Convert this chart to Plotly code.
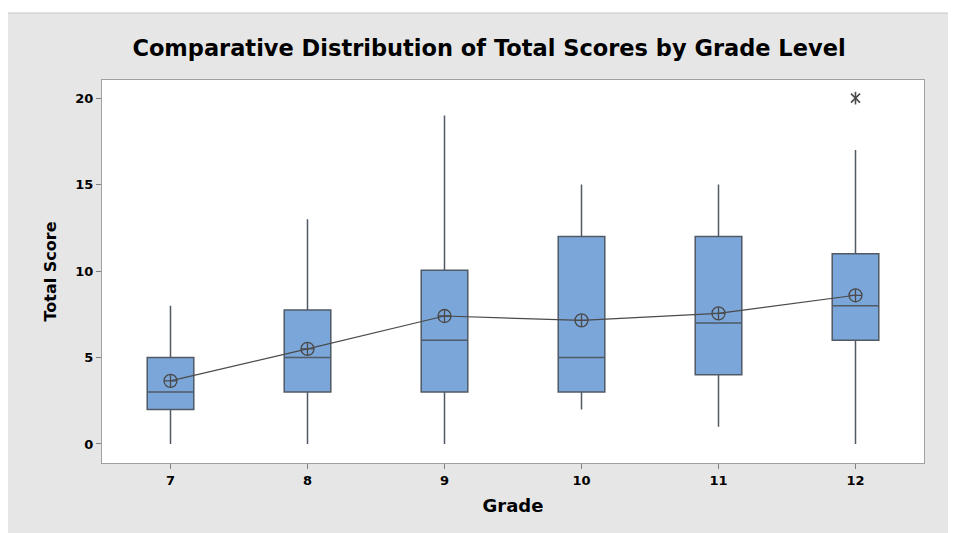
import plotly.graph_objects as go

grades = [7, 8, 9, 10, 11, 12]
mins = [0, 0, 0, 2, 1, 0]
q1s = [2, 3, 3, 3, 4, 6]
medians = [3, 5, 6, 5, 7, 8]
q3s = [5, 7.75, 10.05, 12, 12, 11]
maxs = [8, 13, 19, 15, 15, 17]
means = [3.65, 5.5, 7.4, 7.15, 7.55, 8.6]
outlier_grades = [12]
outlier_values = [20]
y_ticks = [0, 5, 10, 15, 20]

FILL = "#7BA6D9"
EDGE = "#505A64"
DARK = "#4A4A4A"
FONT = "DejaVu Sans"

fig = go.Figure()
fig.add_trace(go.Box(
    x=grades, q1=q1s, median=medians, q3=q3s,
    lowerfence=mins, upperfence=maxs,
    width=0.34, whiskerwidth=0,
    fillcolor=FILL, line=dict(color=EDGE, width=1.5),
    boxpoints=False, showlegend=False, hoverinfo="skip",
))
fig.add_trace(go.Scatter(
    x=grades, y=means, mode="lines+markers",
    line=dict(color=DARK, width=1.2),
    marker=dict(symbol="circle-cross-open", size=13, color=DARK, line=dict(width=1.3)),
    showlegend=False, hoverinfo="skip",
))
for sym in ["line-ns-open", "x-thin-open"]:
    fig.add_trace(go.Scatter(
        x=outlier_grades, y=outlier_values, mode="markers",
        marker=dict(symbol=sym, size=9, color=DARK, line=dict(width=1.6, color=DARK)),
        showlegend=False, hoverinfo="skip",
    ))

# page body adds an 8px offset; figure is sized/margined to compensate
OFF = 8
W, H = 956 - OFF, 533 - OFF
L, R, T, B = 102 - OFF, 32, 80 - OFF, 70
pw, ph = W - L - R, H - T - B

def px_x(px):
    return (px - OFF - L) / pw

def px_y(py):
    return (H - B - (py - OFF)) / ph

shapes = [
    dict(type="rect", xref="paper", yref="paper",
         x0=px_x(-5), x1=px_x(960), y0=px_y(13), y1=px_y(0),
         fillcolor="white", line=dict(width=0), layer="above"),
    dict(type="line", xref="paper", yref="paper",
         x0=px_x(8), x1=px_x(956), y0=px_y(13), y1=px_y(13),
         line=dict(color="#C8C8C8", width=1), layer="above"),
]

fig.update_layout(
    width=W, height=H,
    margin=dict(l=L, r=R, t=T, b=B),
    paper_bgcolor="#E6E6E6", plot_bgcolor="white",
    font=dict(family=FONT, color="black"),
    title=dict(text="<b>Comparative Distribution of Total Scores by Grade Level</b>",
               xref="container", x=(489 - OFF) / W, xanchor="center",
               y=1 - (48 - OFF) / H, yanchor="middle",
               font=dict(size=22.5, family=FONT, color="black")),
    shapes=shapes,
    xaxis=dict(
        range=[6.5, 12.5], tickvals=grades, ticktext=[f"<b>{g}</b>" for g in grades],
        showgrid=False, zeroline=False, showline=True, linecolor="#A0A0A0", linewidth=1,
        mirror=True, ticks="outside", ticklen=5, tickcolor="#808080",
        tickfont=dict(size=13, family=FONT),
        title=dict(text="<b>Grade</b>", font=dict(size=18, family=FONT), standoff=12),
    ),
    yaxis=dict(
        range=[-1.1, 21.05], tickvals=y_ticks, ticktext=[f"<b>{v}</b>" for v in y_ticks],
        showgrid=False, zeroline=False, showline=True, linecolor="#A0A0A0", linewidth=1,
        mirror=True, ticks="outside", ticklen=5, tickcolor="#808080",
        tickfont=dict(size=13, family=FONT),
        title=dict(text="<b>Total Score</b>", font=dict(size=16, family=FONT), standoff=14),
    ),
)

fig.write_html("out.html")
